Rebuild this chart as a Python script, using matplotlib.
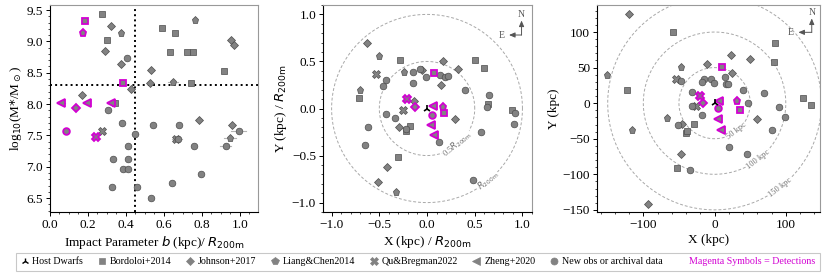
import matplotlib.pyplot as plt
from matplotlib.lines import Line2D
from matplotlib.ticker import AutoMinorLocator, MultipleLocator
import numpy as np

plt.rcParams['font.family'] = ['Liberation Serif', 'DejaVu Serif']
plt.rcParams['mathtext.fontset'] = 'dejavusans'

GRAY = '#828282'
EDGE = '#4d4d4d'
MAG = '#d200d2'

surveys = ['Bordoloi+2014', 'Johnson+2017', 'Liang&Chen2014',
           'Qu&Bregman2022', 'Zheng+2020', 'New obs or archival data']
marks = ['s', 'D', 'p', 'X', '<', 'o']
msizes = [4.3, 4.0, 5.2, 5.2, 5.2, 4.8]

# ---- panel 1: impact parameter / R200m vs log stellar mass ----
p1_gray = {
    'Bordoloi+2014': [(0.274, 9.43), (0.298, 9.03), (0.342, 8.02), (0.591, 9.22), (0.658, 9.13),
                      (0.632, 8.83), (0.719, 8.83), (0.751, 8.83), (0.918, 8.53), (0.740, 8.33)],
    'Johnson+2017': [(0.321, 9.25), (0.289, 8.84), (0.372, 8.64), (0.426, 8.24), (0.167, 8.14),
                     (0.954, 9.03), (0.970, 8.94), (0.533, 8.54), (0.528, 8.34), (0.782, 7.74),
                     (0.960, 7.66)],
    'Liang&Chen2014': [(0.374, 9.14), (0.763, 9.34), (0.647, 8.35), (0.947, 7.46)],
    'Qu&Bregman2022': [(0.272, 7.57), (0.663, 7.45)],
    'New obs or archival data': [(0.404, 8.73), (0.307, 7.90), (0.377, 7.70), (0.447, 7.52),
                                 (0.544, 7.66), (0.679, 7.66), (0.993, 7.57), (0.675, 7.45),
                                 (0.410, 7.33), (0.758, 7.33), (0.925, 7.33), (0.333, 7.12),
                                 (0.411, 7.12), (0.384, 6.96), (0.411, 6.96), (0.796, 6.89),
                                 (0.644, 6.74), (0.326, 6.68), (0.458, 6.68), (0.532, 6.50)],
}
p1_mag = {
    'Bordoloi+2014': [(0.184, 9.32), (0.382, 8.33)],
    'Johnson+2017': [(0.139, 7.94)],
    'Liang&Chen2014': [(0.172, 9.14)],
    'Qu&Bregman2022': [(0.240, 7.47)],
    'Zheng+2020': [(0.058, 8.01), (0.196, 8.01), (0.321, 8.01)],
    'New obs or archival data': [(0.083, 7.57)],
}
# horizontal error bars (x, y, half width)
p1_err = [(0.058, 8.01, 0.02), (0.196, 8.01, 0.015), (0.321, 8.01, 0.015), (0.647, 8.35, 0.025),
          (0.447, 7.52, 0.015), (0.993, 7.57, 0.04), (0.947, 7.46, 0.03), (0.925, 7.33, 0.03),
          (0.668, 7.45, 0.025)]

# ---- panel 2: X, Y normalised by R200m ----
p2_gray = {
    'Bordoloi+2014': [(-0.283, 0.514), (0.498, 0.514), (0.594, 0.426), (-0.713, 0.11), (0.642, 0.05),
                      (0.887, -0.011), (-0.22, -0.24), (-0.174, -0.191), (-0.307, -0.518)],
    'Johnson+2017': [(-0.631, 0.699), (0.164, 0.504), (0.328, 0.418), (-0.05, 0.41), (0.147, 0.252),
                     (-0.133, 0.085), (0.294, -0.11), (-0.294, -0.2), (-0.416, -0.624),
                     (-0.512, -0.784)],
    'Liang&Chen2014': [(-0.502, 0.56), (-0.246, 0.383), (-0.706, 0.195), (-0.328, -0.89)],
    'Qu&Bregman2022': [(-0.536, 0.362), (-0.249, -0.011)],
    'New obs or archival data': [(-0.43, 0.305), (-0.457, 0.238), (-0.07, 0.42), (-0.15, 0.383),
                                 (-0.014, 0.333), (0.137, 0.355), (0.184, 0.337), (0.225, 0.344),
                                 (-0.147, 0.266), (0.40, 0.195), (0.648, 0.142), (0.631, 0.021),
                                 (0.92, -0.05), (0.915, -0.16), (-0.433, -0.057), (-0.338, -0.106),
                                 (-0.614, -0.2), (-0.225, -0.216), (0.567, -0.252), (0.13, -0.358),
                                 (-0.655, -0.386), (0.481, -0.759)],
}
p2_mag = {
    'Bordoloi+2014': [(0.075, 0.376), (0.174, -0.046)],
    'Johnson+2017': [(-0.126, 0.014)],
    'Liang&Chen2014': [(0.171, 0.021)],
    'Qu&Bregman2022': [(-0.208, 0.106)],
    'Zheng+2020': [(0.058, 0.028), (0.041, -0.18), (0.075, -0.284)],
    'New obs or archival data': [(0.055, -0.067)],
}

# ---- panel 3: X, Y in kpc ----
p3_gray = {
    'Bordoloi+2014': [(-57.9, 100.5), (85, 85), (83.2, 57.3), (-123.4, 18.3), (123.8, 6.6),
                      (135, -2.8), (-29, -29.6), (-40.2, -42.3), (-38.8, -38.5), (-53.3, -91)],
    'Johnson+2017': [(-119.6, 124.9), (22.9, 68.1), (50, 61.5), (-10.3, 54.9), (23.8, 41.8),
                     (59.3, -22.5), (-46, -29), (-46.7, -70.9), (-94, -141.3)],
    'Liang&Chen2014': [(-47.7, 50.2), (-150.5, 39.4), (-67.3, -20.2), (-116.4, -38)],
    'Qu&Bregman2022': [(-54.2, 34.3), (-26.2, -3.3)],
    'New obs or archival data': [(15, 36.6), (-47.2, 31), (-14.5, 33.8), (-17.8, 29.6), (-4.7, 34.3),
                                 (-1.4, 27.7), (15.9, 26.3), (18.7, 26.3), (39.7, 18.3), (69.2, 14.6),
                                 (-32.2, 15.5), (-32.2, -3.8), (47.2, 0), (90.7, -5.2), (99, -18.8),
                                 (-17.3, -16), (-52, -31), (80.4, -38), (20.1, -61.5), (45.3, -71.8),
                                 (-34.6, -94.4)],
}
p3_mag = {
    'Bordoloi+2014': [(9.8, 50.7), (36, -10.3)],
    'Johnson+2017': [(-15.9, 0)],
    'Liang&Chen2014': [(32.2, 3.3)],
    'Qu&Bregman2022': [(-20.6, 9.4)],
    'Zheng+2020': [(6.1, 3.3), (5.1, -22.1), (8.9, -37.6)],
    'New obs or archival data': [(5.1, -6.6)],
}

p2_rings = [0.5, 1.0]
p2_ring_labels = [r'0.5$R_{\rm 200m}$', r'$R_{\rm 200m}$']
p3_rings = [50, 100, 150]
p3_ring_labels = ['50 kpc', '100 kpc', '150 kpc']


def draw(ax, gray, mag):
    for name, m, ms in zip(surveys, marks, msizes):
        if name in gray:
            x, y = zip(*gray[name])
            ax.plot(x, y, ls='none', marker=m, ms=ms, mfc=GRAY, mec=EDGE, mew=0.5, zorder=3)
        if name in mag:
            x, y = zip(*mag[name])
            ax.plot(x, y, ls='none', marker=m, ms=ms, mfc=GRAY, mec=MAG, mew=1.3, zorder=4)


def style(ax):
    ax.xaxis.set_minor_locator(AutoMinorLocator())
    ax.yaxis.set_minor_locator(AutoMinorLocator())
    ax.tick_params(labelsize=9.5, length=3, width=0.7, pad=2)
    ax.tick_params(which='minor', length=1.6, width=0.5)
    for s in ['top', 'right']:
        ax.spines[s].set_color('#999999')
    for s in ax.spines.values():
        s.set_linewidth(0.8)


def rings(ax, radii, labels, ang, size):
    t = np.linspace(0, 2 * np.pi, 400)
    for r, lab in zip(radii, labels):
        ax.plot(r * np.cos(t), r * np.sin(t), ls=(0, (3, 2)), color='#a8a8a8', lw=0.7, zorder=1)
        a = np.deg2rad(ang)
        ax.text(r * np.cos(a), r * np.sin(a), lab, rotation=90 + ang, fontsize=size,
                color='#707070', ha='center', va='center', rotation_mode='anchor',
                bbox=dict(fc='white', ec='none', pad=0.3), zorder=2)


def compass(ax, cx, cy, ny, ex, nl, el):
    kw = dict(arrowstyle='-|>,head_length=0.35,head_width=0.15', color='#555555', lw=0.7,
              shrinkA=0, shrinkB=0)
    ax.annotate('', xy=(cx, ny), xytext=(cx, cy), xycoords='axes fraction',
                textcoords='axes fraction', arrowprops=kw)
    ax.annotate('', xy=(ex, cy), xytext=(cx, cy), xycoords='axes fraction',
                textcoords='axes fraction', arrowprops=kw)
    ax.text(cx, nl, 'N', transform=ax.transAxes, fontsize=7, color='#555555', ha='center', va='center')
    ax.text(el, cy, 'E', transform=ax.transAxes, fontsize=7, color='#555555', ha='center', va='center')


fig = plt.figure(figsize=(8.3, 2.77), dpi=100)
ax1 = fig.add_axes([50 / 830, 65 / 277, 208 / 830, 207 / 277])
ax2 = fig.add_axes([323 / 830, 65 / 277, 209 / 830, 207 / 277])
ax3 = fig.add_axes([597 / 830, 65 / 277, 223 / 830, 207 / 277])

# panel 1
for x, y, dx in p1_err:
    ax1.plot([x - dx, x + dx], [y, y], color='#b5b5b5', lw=0.8, zorder=2)
draw(ax1, p1_gray, p1_mag)
ax1.axvline(0.45, color='k', ls=':', lw=1.4, zorder=1)
ax1.axhline(8.3, color='k', ls=':', lw=1.4, zorder=1)
ax1.set_xlim(0, 1.095)
ax1.set_ylim(6.28, 9.58)
ax1.xaxis.set_major_locator(MultipleLocator(0.2))
ax1.yaxis.set_major_locator(MultipleLocator(0.5))
ax1.set_xlabel(r'Impact Parameter $b$ (kpc)/ $R_{\rm 200m}$', fontsize=9.5, labelpad=2)
ax1.set_ylabel(r'log$_{10}$(M$*$/M$_\odot$)', fontsize=9.5, labelpad=2)
style(ax1)

# panel 2
rings(ax2, p2_rings, p2_ring_labels, -50, 6)
draw(ax2, p2_gray, p2_mag)
ax2.plot([0], [0], ls='none', marker='2', ms=6, color='k', mew=1.2, zorder=5)
ax2.set_xlim(-1.09, 1.1)
ax2.set_ylim(-1.1, 1.1)
ax2.xaxis.set_major_locator(MultipleLocator(0.5))
ax2.yaxis.set_major_locator(MultipleLocator(0.5))
ax2.set_xlabel(r'X (kpc) / $R_{\rm 200m}$', fontsize=9.5, labelpad=2)
ax2.set_ylabel(r'Y (kpc) / $R_{\rm 200m}$', fontsize=9.5, labelpad=2)
style(ax2)
compass(ax2, 0.95, 0.855, 0.925, 0.89, 0.955, 0.855)

# panel 3
rings(ax3, p3_rings, p3_ring_labels, -52, 6)
draw(ax3, p3_gray, p3_mag)
ax3.plot([0], [0], ls='none', marker='2', ms=6, color='k', mew=1.2, zorder=5)
ax3.set_xlim(-165, 148)
ax3.set_ylim(-153, 138)
ax3.xaxis.set_major_locator(MultipleLocator(100))
ax3.yaxis.set_major_locator(MultipleLocator(50))
ax3.set_xlabel('X (kpc)', fontsize=9.5, labelpad=2)
ax3.set_ylabel('Y (kpc)', fontsize=9.5, labelpad=2)
style(ax3)
compass(ax3, 0.963, 0.868, 0.935, 0.903, 0.962, 0.87)

# legend
handles = [Line2D([], [], ls='none', marker='2', ms=5, color='k', mew=1.0)]
labels = ['Host Dwarfs']
for name, m, ms in zip(surveys, marks, msizes):
    handles.append(Line2D([], [], ls='none', marker=m, ms=ms * 1.05, mfc=GRAY, mec=GRAY, mew=0.5))
    labels.append(name)
handles.append(Line2D([], [], ls='none', marker=''))
labels.append('Magenta Symbols = Detections')
leg = fig.legend(handles, labels, loc='lower left', bbox_to_anchor=(16 / 830, 6 / 277, 804 / 830, 19 / 277),
                 mode='expand', ncol=8, fontsize=7.2, frameon=True, fancybox=False,
                 handlelength=0.8, handletextpad=0.4, borderpad=0.45, borderaxespad=0)
leg.get_frame().set_edgecolor('#bbbbbb')
leg.get_frame().set_linewidth(0.8)
leg.get_texts()[-1].set_color(MAG)

fig.savefig('out.png', dpi=100)
